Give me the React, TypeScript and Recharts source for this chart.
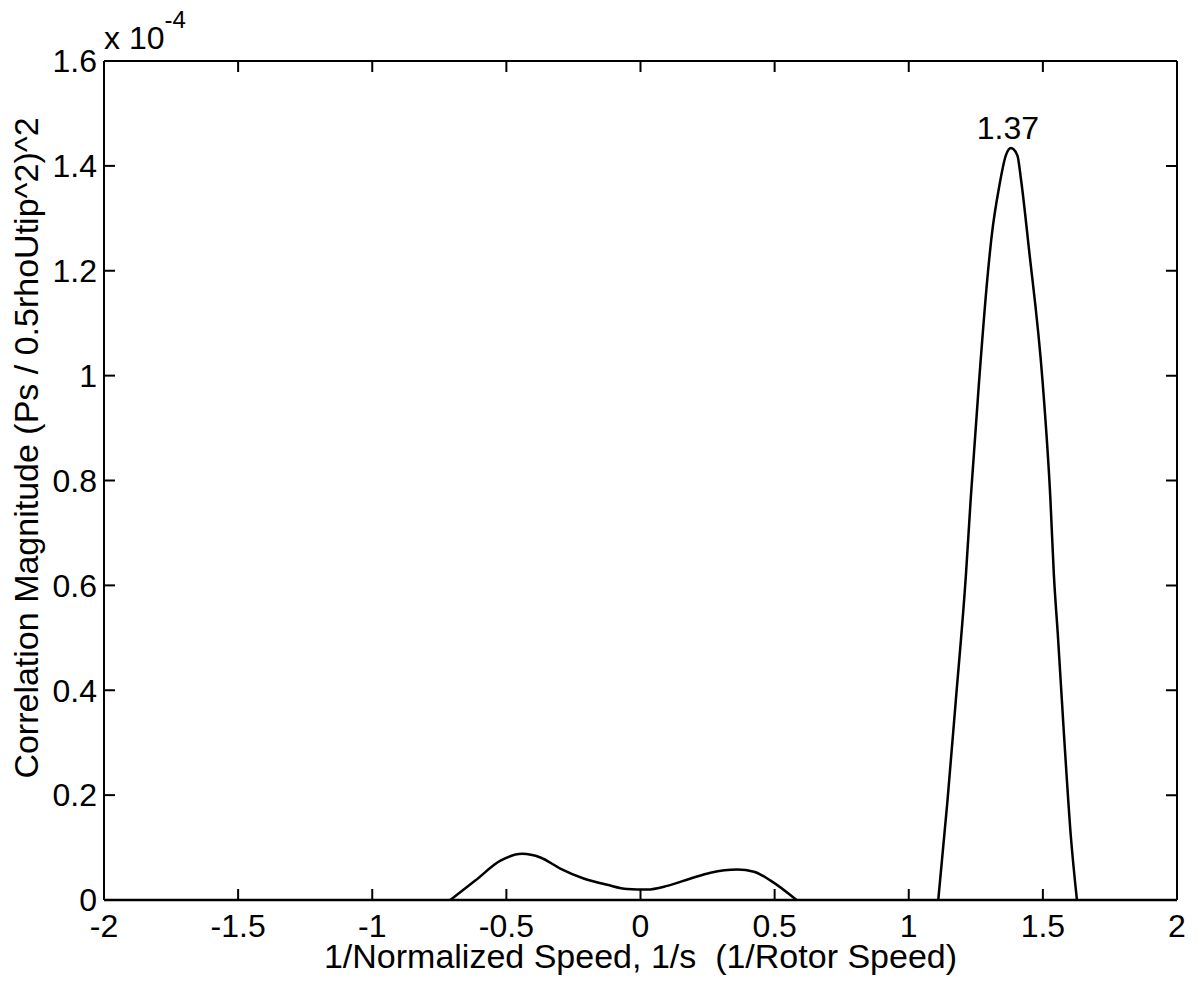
import React from 'react';
import { LineChart, Line, XAxis, YAxis, ReferenceLine } from 'recharts';

// values in units of 1e-4
const xTicks = [-2, -1.5, -1, -0.5, 0, 0.5, 1, 1.5, 2];
const yTicks = [0, 0.2, 0.4, 0.6, 0.8, 1, 1.2, 1.4, 1.6];
const xDomain = [-2, 2];
const yDomain = [0, 1.6];

// the curve sits at zero outside the two lobes
const baseX = [-2, 2];
const baseY = [0, 0];

// low double hump around zero
const bumpX = [-0.709, -0.616, -0.522, -0.441, -0.373, -0.299, -0.212, -0.124, -0.05, 0.025, 0.1, 0.187, 0.261, 0.361, 0.423, 0.485, 0.582];
const bumpY = [0, 0.037, 0.075, 0.088, 0.081, 0.06, 0.041, 0.029, 0.021, 0.02, 0.027, 0.041, 0.052, 0.058, 0.054, 0.037, 0];

// main peak
const peakX = [1.11, 1.144, 1.175, 1.213, 1.231, 1.262, 1.293, 1.31, 1.336, 1.362, 1.381, 1.405, 1.418, 1.448, 1.499, 1.528, 1.541, 1.556, 1.579, 1.604, 1.627];
const peakY = [0, 0.187, 0.378, 0.619, 0.765, 0.988, 1.185, 1.27, 1.357, 1.42, 1.434, 1.42, 1.376, 1.242, 0.988, 0.765, 0.62, 0.504, 0.313, 0.123, 0];

const peakLabel = '1.37';

const xTitle = '1/Normalized Speed, 1/s\u00a0 (1/Rotor Speed)';
const yTitle = 'Correlation Magnitude (Ps / 0.5rhoUtip^2)^2';

type Pt = { x: number; y: number | null };
const zip = (xs: number[], ys: number[]): Pt[] => xs.map((x, i) => ({ x, y: ys[i] }));

const baseData = zip(baseX, baseY);
const bumpData = zip(bumpX, bumpY);
const peakData = zip(peakX, peakY);
const peakIdx = peakY.indexOf(Math.max(...peakY));

// inward tick length (~11px) in data units, for the top and right edges
const TICK_Y = 0.021;
const TICK_X = 0.041;

const topTicks: Pt[] = [];
xTicks.forEach((t) => topTicks.push({ x: t, y: yDomain[1] }, { x: t, y: yDomain[1] - TICK_Y }, { x: t, y: null }));
const rightTicks: Pt[] = [];
yTicks.forEach((t) => rightTicks.push({ x: xDomain[1], y: t }, { x: xDomain[1] - TICK_X, y: t }, { x: xDomain[1], y: null }));

const FONT = '"Liberation Sans", Arial, Helvetica, sans-serif';
const FS = 32;
const TITLE_FS = 34;
const tickStyle = { fill: '#000', fontSize: FS, fontFamily: FONT };
const axisLine = { stroke: '#000', strokeWidth: 2 };
const tickLine = { stroke: '#000', strokeWidth: 2 };
const fmt = (v: number) => String(v);

const PeakLabel = ({ x, y, index }: any) =>
  index === peakIdx ? (
    <text x={x - 3} y={y - 9} textAnchor="middle" fontSize={FS} fontFamily={FONT} fill="#000">
      {peakLabel}
    </text>
  ) : null;

export default function App() {
  return (
    <div style={{ position: 'absolute', left: 0, top: 0 }}>
      <LineChart width={1198} height={990} margin={{ top: 61, right: 21, bottom: 0, left: 0 }}>
        <XAxis
          dataKey="x"
          type="number"
          domain={xDomain}
          ticks={xTicks}
          tickFormatter={fmt}
          height={90}
          axisLine={axisLine}
          tickLine={tickLine}
          tickSize={-11}
          tickMargin={25}
          tick={tickStyle}
          interval={0}
          label={{
            content: ({ viewBox }: any) => (
              <text x={viewBox.x + viewBox.width / 2} y={viewBox.y + 68} textAnchor="middle" fontSize={TITLE_FS} fontFamily={FONT} fill="#000">
                {xTitle}
              </text>
            ),
          }}
        />
        <YAxis
          type="number"
          domain={yDomain}
          ticks={yTicks}
          tickFormatter={fmt}
          width={104}
          axisLine={axisLine}
          tickLine={tickLine}
          tickSize={-11}
          tickMargin={18}
          tick={tickStyle}
          interval={0}
          label={{
            content: () => {
              const cx = 38;
              const cy = 448;
              return (
                <g>
                  <text x={cx} y={cy} textAnchor="middle" transform={`rotate(-90, ${cx}, ${cy})`} fontSize={TITLE_FS} fontFamily={FONT} fill="#000">
                    {yTitle}
                  </text>
                  <text x={104} y={49} fontSize={FS} fontFamily={FONT} fill="#000">
                    x 10
                    <tspan dy={-21} fontSize={24}>-4</tspan>
                  </text>
                </g>
              );
            },
          }}
        />
        {/* box: top and right edges */}
        <ReferenceLine y={yDomain[1]} stroke="#000" strokeWidth={2} ifOverflow="visible" />
        <ReferenceLine x={xDomain[1]} stroke="#000" strokeWidth={2} ifOverflow="visible" />
        <Line data={topTicks} dataKey="y" type="linear" stroke="#000" strokeWidth={2} dot={false} isAnimationActive={false} />
        <Line data={rightTicks} dataKey="y" type="linear" stroke="#000" strokeWidth={2} dot={false} isAnimationActive={false} />
        <Line data={baseData} dataKey="y" type="linear" stroke="#000" strokeWidth={2.5} dot={false} isAnimationActive={false} />
        <Line data={bumpData} dataKey="y" type="monotone" stroke="#000" strokeWidth={2.5} dot={false} isAnimationActive={false} />
        <Line data={peakData} dataKey="y" type="monotone" stroke="#000" strokeWidth={2.5} dot={false} label={<PeakLabel />} isAnimationActive={false} />
      </LineChart>
    </div>
  );
}
